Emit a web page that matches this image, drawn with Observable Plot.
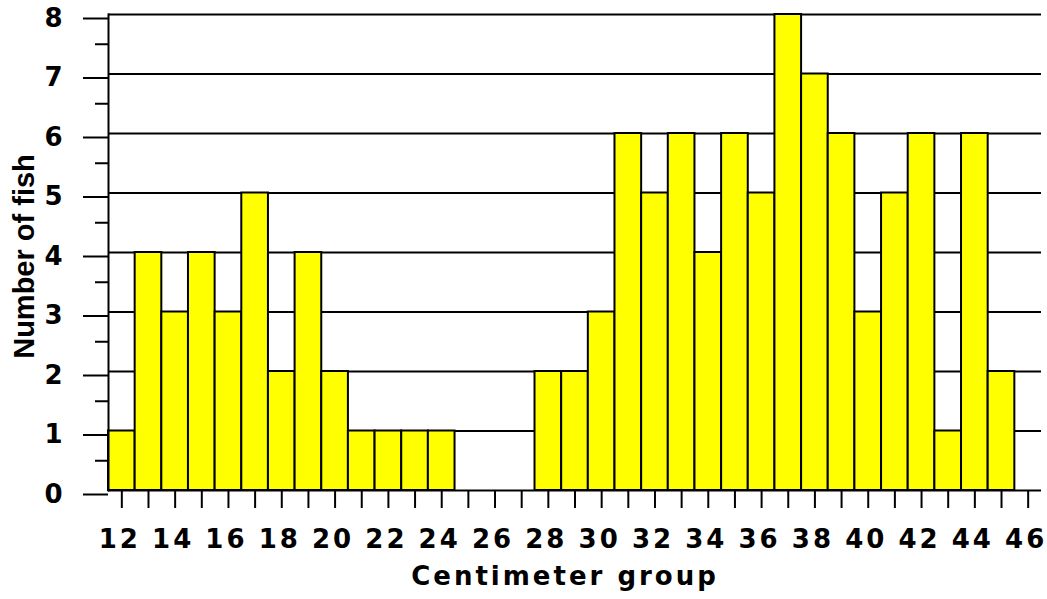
<!DOCTYPE html>
<html>
<head>
<meta charset="utf-8">
<script src="https://cdn.jsdelivr.net/npm/d3@7"></script>
<script src="https://cdn.jsdelivr.net/npm/@observablehq/plot@0.6"></script>
<style>
  html, body { margin: 0; padding: 0; background: #fff; }
  g[aria-label="x-axis tick label"] text { letter-spacing: 3px; }
</style>
</head>
<body>
<div id="chart"></div>
<script>
const groups = d3.range(12, 47);
const counts = [1,4,3,4,3,5,2,4,2,1,1,1,1,0,0,0,2,2,3,6,5,6,4,6,5,8,7,6,3,5,6,1,6,2,0];
const labelGroups = groups.filter(g => g % 2 === 0);
const yTicks = d3.range(0, 9);
const yHalfTicks = d3.range(0.5, 8, 1);
const xTitle = "Centimeter group";
const yTitle = "Number of fish";

const data = groups.map((g, i) => ({group: g, count: counts[i]}));

const chart = Plot.plot({
  width: 1047,
  height: 599,
  marginLeft: 108,
  marginRight: 6,
  marginTop: 14,
  marginBottom: 109,
  style: {fontFamily: "'DejaVu Sans', sans-serif", fontWeight: "bold", background: "#fff", color: "#000", overflow: "visible"},
  x: {type: "band", domain: groups, padding: 0, round: false, label: null},
  y: {domain: [0, 8], label: null},
  marks: [
    Plot.gridY(yTicks, {stroke: "#000", strokeOpacity: 1, strokeWidth: 2}),
    Plot.axisY(yHalfTicks, {tickSize: 13, tickFormat: () => "", strokeWidth: 2, label: null}),
    Plot.axisY(yTicks, {tickSize: 25, tickPadding: 21, fontSize: 26, dy: 4, strokeWidth: 2, tickFormat: d3.format("d"), label: null}),
    Plot.axisX(groups, {tickSize: 18, tickFormat: () => "", strokeWidth: 2, label: null}),
    Plot.axisX(labelGroups, {tickSize: 0, tickPadding: 39, fontSize: 26, dx: -2, label: null}),
    Plot.barY(data, {x: "group", y: "count", fill: "#ffff00", stroke: "#000", strokeWidth: 2}),
    Plot.frame({anchor: "left", strokeWidth: 2}),
    Plot.text([xTitle], {frameAnchor: "bottom", text: d => d, dy: 86, dx: -10, lineAnchor: "middle", fontSize: 26, fontWeight: "bold"}),
    Plot.text([yTitle], {frameAnchor: "left", text: d => d, rotate: -90, dx: -84, dy: 4, textAnchor: "middle", lineAnchor: "middle", fontSize: 29, fontWeight: "bold", fontFamily: "'Liberation Sans', Arial, sans-serif"})
  ]
});
d3.select(chart).selectAll("text")
  .filter(function () { return this.textContent === xTitle; })
  .attr("letter-spacing", "3px");
document.getElementById("chart").appendChild(chart);
</script>
</body>
</html>
